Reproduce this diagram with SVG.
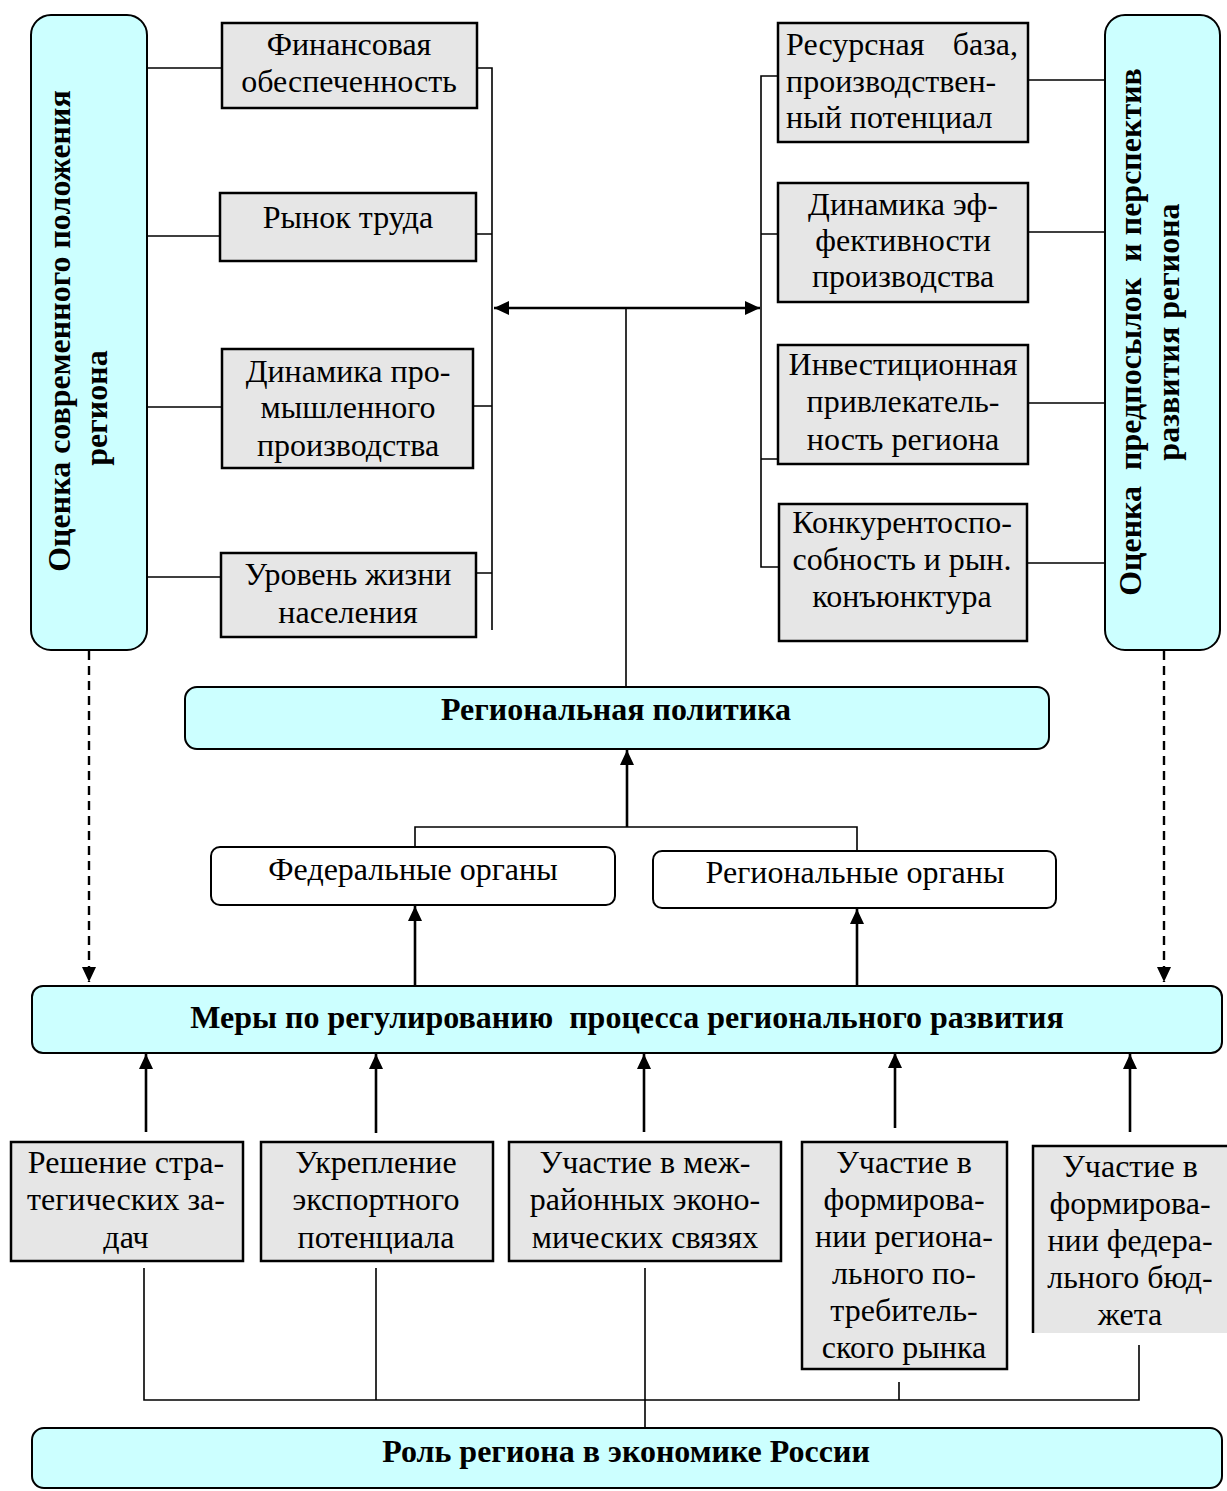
<svg xmlns="http://www.w3.org/2000/svg" width="1227" height="1491" viewBox="0 0 1227 1491">
<style>
.t{font-family:"Liberation Serif","Times New Roman",serif;font-size:32px;fill:#000}
.c{text-anchor:middle}
.e{text-anchor:end}
.b{font-weight:bold;font-size:32px}
.cy{fill:#CCFFFF;stroke:#000;stroke-width:2}
.gr{fill:#E6E6E6;stroke:#000;stroke-width:2.5}
.wh{fill:#FFFFFF;stroke:#000;stroke-width:2}
.ln{fill:none;stroke:#000;stroke-width:1.6}
.ar{fill:none;stroke:#000;stroke-width:2.6}
.ds{fill:none;stroke:#000;stroke-width:2.4;stroke-dasharray:9 6}
</style>
<defs>
<marker id="ah" markerUnits="userSpaceOnUse" markerWidth="16" markerHeight="14" refX="15" refY="7" orient="auto-start-reverse">
<path d="M0,0 L15,7 L0,14 z" fill="#000"/>
</marker>
</defs>
<rect x="0" y="0" width="1227" height="1491" fill="#FFFFFF"/>

<g id="connectors">
<path class="ln" d="M147,68 H222 M147,236 H222 M147,407 H222 M147,577 H222"/>
<path class="ln" d="M473,68 H492 V630 M473,234 H492 M473,406 H492 M473,573 H492"/>
<line class="ar" x1="494" y1="308" x2="760" y2="308" marker-start="url(#ah)" marker-end="url(#ah)"/>
<path class="ln" d="M626,308 V687"/>
<path class="ln" d="M779,76 H761 V567 H779 M761,234 H779 M761,459 H779"/>
<path class="ln" d="M1028,80 H1105 M1028,232 H1105 M1028,403 H1105 M1027,563 H1105"/>
<path class="ds" d="M89,651 V982" marker-end="url(#ah)"/>
<path class="ds" d="M1164,651 V982" marker-end="url(#ah)"/>
<path class="ln" d="M415,847 V827 H857 V851"/>
<line class="ar" x1="627" y1="827" x2="627" y2="750" marker-end="url(#ah)"/>
<line class="ar" x1="415" y1="986" x2="415" y2="906" marker-end="url(#ah)"/>
<line class="ar" x1="857" y1="986" x2="857" y2="909" marker-end="url(#ah)"/>
<line class="ar" x1="146" y1="1132" x2="146" y2="1054" marker-end="url(#ah)"/>
<line class="ar" x1="376" y1="1133" x2="376" y2="1054" marker-end="url(#ah)"/>
<line class="ar" x1="644" y1="1132" x2="644" y2="1054" marker-end="url(#ah)"/>
<line class="ar" x1="895" y1="1128" x2="895" y2="1053" marker-end="url(#ah)"/>
<line class="ar" x1="1130" y1="1132" x2="1130" y2="1054" marker-end="url(#ah)"/>
<path class="ln" d="M144,1268 V1400 H1139 V1345 M376,1268 V1400 M645,1268 V1432 M899,1382 V1400"/>
</g>

<g id="left-assessment">
<rect class="cy" x="31" y="15" width="116" height="635" rx="20"/>
<text class="t b c" transform="translate(70,331) rotate(-90)">Оценка современного положения</text>
<text class="t b c" transform="translate(107,408) rotate(-90)">региона</text>
</g>

<g id="fin">
<rect class="gr" x="222" y="23" width="255" height="85"/>
<text class="t c" x="349" y="55">Финансовая</text>
<text class="t c" x="349" y="92">обеспеченность</text>
</g>
<g id="labour">
<rect class="gr" x="220" y="193" width="256" height="68"/>
<text class="t c" x="348" y="228">Рынок труда</text>
</g>
<g id="industry">
<rect class="gr" x="222" y="349" width="251" height="119"/>
<text class="t c" x="348" y="382">Динамика про-</text>
<text class="t c" x="348" y="418">мышленного</text>
<text class="t c" x="348" y="456">производства</text>
</g>
<g id="living">
<rect class="gr" x="221" y="553" width="255" height="84"/>
<text class="t c" x="348" y="585">Уровень жизни</text>
<text class="t c" x="348" y="623">населения</text>
</g>

<g id="resource">
<rect class="gr" x="778" y="23" width="250" height="119"/>
<text class="t" x="786" y="55">Ресурсная</text>
<text class="t e" x="1018" y="55">база,</text>
<text class="t" x="786" y="92">производствен-</text>
<text class="t" x="786" y="128">ный потенциал</text>
</g>
<g id="efficiency">
<rect class="gr" x="778" y="183" width="250" height="119"/>
<text class="t c" x="903" y="215">Динамика эф-</text>
<text class="t c" x="903" y="251">фективности</text>
<text class="t c" x="903" y="287">производства</text>
</g>
<g id="invest">
<rect class="gr" x="778" y="345" width="250" height="119"/>
<text class="t c" x="903" y="375">Инвестиционная</text>
<text class="t c" x="903" y="412">привлекатель-</text>
<text class="t c" x="903" y="450">ность региона</text>
</g>
<g id="compet">
<rect class="gr" x="779" y="504" width="248" height="137"/>
<text class="t c" x="902" y="533">Конкурентоспо-</text>
<text class="t c" x="902" y="570">собность и рын.</text>
<text class="t c" x="902" y="607">конъюнктура</text>
</g>

<g id="right-assessment">
<rect class="cy" x="1105" y="15" width="115" height="635" rx="20"/>
<text class="t b c" transform="translate(1141,332) rotate(-90)" xml:space="preserve">Оценка  предпосылок  и перспектив</text>
<text class="t b c" transform="translate(1179,332) rotate(-90)">развития региона</text>
</g>

<g id="policy">
<rect class="cy" x="185" y="687" width="864" height="62" rx="12"/>
<text class="t b c" x="616" y="720">Региональная политика</text>
</g>
<g id="federal">
<rect class="wh" x="211" y="847" width="404" height="58" rx="9"/>
<text class="t c" x="413" y="880">Федеральные органы</text>
</g>
<g id="regional">
<rect class="wh" x="653" y="851" width="403" height="57" rx="9"/>
<text class="t c" x="855" y="883">Региональные органы</text>
</g>

<g id="measures">
<rect class="cy" x="32" y="986" width="1190" height="67" rx="11"/>
<text class="t b c" x="627" y="1028" xml:space="preserve">Меры по регулированию  процесса регионального развития</text>
</g>

<g id="strategic">
<rect class="gr" x="11" y="1142" width="232" height="119"/>
<text class="t c" x="126" y="1173">Решение стра-</text>
<text class="t c" x="126" y="1210">тегических за-</text>
<text class="t c" x="126" y="1248">дач</text>
</g>
<g id="export">
<rect class="gr" x="261" y="1142" width="232" height="119"/>
<text class="t c" x="376" y="1173">Укрепление</text>
<text class="t c" x="376" y="1210">экспортного</text>
<text class="t c" x="376" y="1248">потенциала</text>
</g>
<g id="interregional">
<rect class="gr" x="509" y="1142" width="272" height="119"/>
<text class="t c" x="645" y="1173">Участие в меж-</text>
<text class="t c" x="645" y="1210">районных эконо-</text>
<text class="t c" x="645" y="1248">мических связях</text>
</g>
<g id="consumer">
<rect class="gr" x="802" y="1142" width="205" height="227"/>
<text class="t c" x="904" y="1173">Участие в</text>
<text class="t c" x="904" y="1210">формирова-</text>
<text class="t c" x="904" y="1247">нии региона-</text>
<text class="t c" x="904" y="1284">льного по-</text>
<text class="t c" x="904" y="1321">требитель-</text>
<text class="t c" x="904" y="1358">ского рынка</text>
</g>
<g id="budget">
<rect x="1033" y="1146" width="200" height="187" fill="#E6E6E6"/>
<path d="M1033,1333 V1146 H1227" fill="none" stroke="#000" stroke-width="2.5"/>
<text class="t c" x="1130" y="1177">Участие в</text>
<text class="t c" x="1130" y="1214">формирова-</text>
<text class="t c" x="1130" y="1251">нии федера-</text>
<text class="t c" x="1130" y="1288">льного бюд-</text>
<text class="t c" x="1130" y="1325">жета</text>
</g>

<g id="role">
<rect class="cy" x="32" y="1428" width="1190" height="60" rx="12"/>
<text class="t b c" x="626" y="1462">Роль региона в экономике России</text>
</g>
</svg>
